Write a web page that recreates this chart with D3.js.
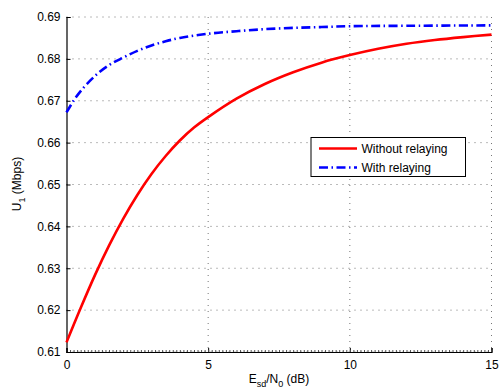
<!DOCTYPE html>
<html>
<head>
<meta charset="utf-8">
<script src="https://d3js.org/d3.v7.min.js"></script>
<style>
  body { margin: 0; background: #fff; }
  text { font-family: "Liberation Sans", Arial, sans-serif; }
</style>
</head>
<body>
<div id="chart"></div>
<script>
// data
var snrWithout = [0, 0.5, 1, 1.5, 2, 2.5, 3, 3.5, 4, 4.5, 5, 6, 7, 8, 9, 10, 11, 12, 13, 14, 15]
var rateWithout = [0.6123, 0.6205, 0.6283, 0.6354, 0.6418, 0.6475, 0.6525, 0.6568, 0.6605, 0.6636, 0.6661, 0.6705, 0.6740, 0.6768, 0.6791, 0.6809, 0.6824, 0.6836, 0.6845, 0.6852, 0.6858]
var snrWith = [0, 0.25, 0.5, 1, 1.5, 2, 2.5, 3, 3.5, 4, 5, 6, 7, 8, 9, 10, 12, 15]
var rateWith = [0.6672, 0.6700, 0.6723, 0.6759, 0.6785, 0.6803, 0.6819, 0.6832, 0.6842, 0.6850, 0.6860, 0.6866, 0.6871, 0.6874, 0.6876, 0.6878, 0.6879, 0.6880]
var xTicks = [0, 5, 10, 15]
var yTicks = [0.61, 0.62, 0.63, 0.64, 0.65, 0.66, 0.67, 0.68, 0.69]
var legendLabels = ["Without relaying", "With relaying"]

var screen = {width: 499, height: 388}
var margin = {top: 17, right: 7.5, bottom: 36, left: 66.5}
var w = screen.width - margin.left - margin.right
var h = screen.height - margin.top - margin.bottom

var xScale = d3.scaleLinear().domain([0, 15]).range([margin.left, margin.left + w])
var yScale = d3.scaleLinear().domain([0.61, 0.69]).range([margin.top + h, margin.top])

var svg = d3.select("#chart").append("svg")
  .attr("width", screen.width)
  .attr("height", screen.height)

// grid
svg.append("g").selectAll("line")
  .data(yTicks)
  .enter().append("line")
  .attr("x1", margin.left).attr("x2", margin.left + w)
  .attr("y1", function(d) { return yScale(d) }).attr("y2", function(d) { return yScale(d) })
  .style("stroke", "#666").style("stroke-width", 0.9).style("stroke-dasharray", "1,5")
svg.append("g").selectAll("line")
  .data(xTicks.slice(1))
  .enter().append("line")
  .attr("x1", function(d) { return xScale(d) }).attr("x2", function(d) { return xScale(d) })
  .attr("y1", margin.top).attr("y2", margin.top + h)
  .style("stroke", "#666").style("stroke-width", 0.9).style("stroke-dasharray", "1,5")

// axes
var xAxis = d3.axisBottom(xScale).tickValues(xTicks).tickSize(-4).tickPadding(8).tickFormat(d3.format("d"))
svg.append("g")
  .attr("transform", "translate(0," + (margin.top + h) + ")")
  .call(xAxis)
var minor = d3.axisBottom(xScale).tickValues(d3.range(0, 15.01, 0.125)).tickSize(-2).tickFormat("")
svg.append("g")
  .attr("transform", "translate(0," + (margin.top + h) + ")")
  .call(minor)
  .call(function(g) { g.select(".domain").remove() })
  .selectAll("line").style("stroke", "#555")

var yAxis = d3.axisLeft(yScale).tickValues(yTicks).tickSize(-4).tickPadding(6).tickFormat(d3.format(".2f"))
svg.append("g")
  .attr("transform", "translate(" + margin.left + ",0)")
  .call(yAxis)

svg.selectAll(".domain").style("stroke", "#000").style("stroke-width", 1.2)
svg.selectAll(".tick text").style("font-size", "12px").style("fill", "#000")
  .style("font-family", "'Liberation Sans', Arial, sans-serif")

// lines
var drawPath = d3.line()
  .x(function(d) { return xScale(d[0]) })
  .y(function(d) { return yScale(d[1]) })
  .curve(d3.curveCatmullRom)

svg.append("path")
  .attr("d", drawPath(d3.zip(snrWithout, rateWithout)))
  .style("fill", "none").style("stroke", "#ff0000").style("stroke-width", 2.6)

svg.append("path")
  .attr("d", drawPath(d3.zip(snrWith, rateWith)))
  .style("fill", "none").style("stroke", "#0000ff").style("stroke-width", 2.6)
  .style("stroke-dasharray", "9,3.5,1.5,3.5")

// legend
var legend = svg.append("g")
legend.append("rect")
  .attr("x", 311).attr("y", 137.5).attr("width", 154.5).attr("height", 39)
  .style("fill", "#fff").style("stroke", "#000").style("stroke-width", 1)
var legendStyles = [{color: "#ff0000", dash: null}, {color: "#0000ff", dash: "9,3.5,1.5,3.5"}]
legendLabels.forEach(function(label, i) {
  var y = 148.5 + i * 19
  legend.append("line")
    .attr("x1", 319).attr("x2", 357).attr("y1", y).attr("y2", y)
    .style("stroke", legendStyles[i].color).style("stroke-width", 2.6)
    .style("stroke-dasharray", legendStyles[i].dash)
  legend.append("text")
    .attr("x", 361.5).attr("y", y + 4.3)
    .style("font-size", "12px")
    .text(label)
})

// axis labels
var xl = svg.append("text")
  .attr("x", 279).attr("y", 382.5)
  .attr("text-anchor", "middle")
  .style("font-size", "12px")
xl.append("tspan").text("E")
xl.append("tspan").attr("dy", 4).style("font-size", "9px").text("sd")
xl.append("tspan").attr("dy", -4).text("/N")
xl.append("tspan").attr("dy", 4).style("font-size", "9px").text("0")
xl.append("tspan").attr("dy", -4).text(" (dB)")

var yl = svg.append("text")
  .attr("transform", "translate(21,184) rotate(-90)")
  .attr("text-anchor", "middle")
  .style("font-size", "12px")
yl.append("tspan").text("U")
yl.append("tspan").attr("dy", 4).style("font-size", "9px").text("1")
yl.append("tspan").attr("dy", -4).text(" (Mbps)")
</script>
</body>
</html>
